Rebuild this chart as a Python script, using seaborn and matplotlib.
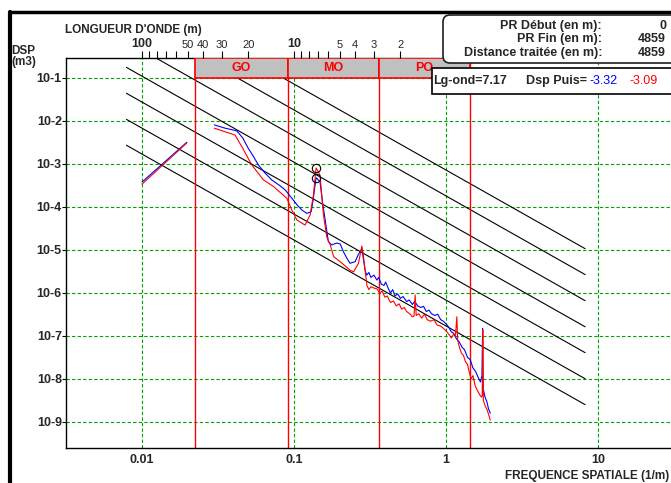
import matplotlib
matplotlib.use('Agg')
import matplotlib.pyplot as plt
from matplotlib.patches import Rectangle, FancyBboxPatch
from matplotlib.lines import Line2D
from matplotlib.ticker import NullLocator, FixedLocator
import pandas as pd
import seaborn as sns

# short first segment (very long waves)
seg_freq = [0.01, 0.0197]
seg_blue = [3.8e-4, 3.2e-3]
seg_red = [3.4e-4, 3.1e-3]

# main spectra, blue then red
blue_freq = [0.0299, 0.0352, 0.042, 0.046, 0.050, 0.054, 0.0582, 0.064, 0.0713, 0.080,
             0.0873, 0.0966, 0.105, 0.1125, 0.1213, 0.1295, 0.1328, 0.1395, 0.148, 0.1535,
             0.160, 0.168, 0.177, 0.190, 0.201, 0.211, 0.222, 0.233, 0.252, 0.265,
             0.279, 0.293, 0.30, 0.31, 0.32, 0.335, 0.35, 0.36, 0.375, 0.39,
             0.40, 0.415, 0.43, 0.445, 0.46, 0.48, 0.50, 0.52, 0.55, 0.57,
             0.60, 0.62, 0.65, 0.68, 0.71, 0.74, 0.77, 0.80, 0.84, 0.88,
             0.92, 0.96, 1.00, 1.04, 1.08, 1.12, 1.17, 1.22, 1.27, 1.32,
             1.38, 1.44, 1.50, 1.56, 1.62, 1.68, 1.72, 1.735, 1.75, 1.80,
             1.85, 1.90, 1.95]
blue_dsp = [8.1e-3, 6.8e-3, 5.9e-3, 4.0e-3, 2.3e-3, 1.5e-3, 9.5e-4, 6.3e-4, 4.25e-4, 3.2e-4,
            2.5e-4, 1.6e-4, 1.1e-4, 8.5e-5, 7.1e-5, 7.8e-5, 1.33e-4, 4.8e-4, 3.9e-4, 1.33e-4,
            5.0e-5, 1.56e-5, 1.31e-5, 1.45e-5, 1.38e-5, 9.1e-6, 6.5e-6, 4.9e-6, 5.35e-6, 8.0e-6,
            1.05e-5, 3.4e-6, 2.6e-6, 3.0e-6, 2.3e-6, 2.6e-6, 2.0e-6, 2.3e-6, 1.6e-6, 1.5e-6,
            1.8e-6, 1.3e-6, 1.0e-6, 1.2e-6, 8.5e-7, 9.5e-7, 7.5e-7, 8.3e-7, 6.3e-7, 6.9e-7,
            5.4e-7, 6.4e-7, 5.0e-7, 4.6e-7, 4.9e-7, 3.7e-7, 4.0e-7, 3.3e-7, 3.0e-7, 3.2e-7,
            2.4e-7, 2.2e-7, 1.9e-7, 1.6e-7, 1.25e-7, 1.15e-7, 8.5e-8, 7.2e-8, 5.5e-8, 4.8e-8,
            3.2e-8, 2.8e-8, 1.8e-8, 1.5e-8, 1.1e-8, 8.5e-9, 1.2e-8, 1.5e-7, 6.0e-9, 3.8e-9,
            3.0e-9, 2.0e-9, 1.6e-9]

red_freq = [0.0299, 0.0409, 0.046, 0.0527, 0.0629, 0.0731, 0.0895, 0.0966, 0.1042, 0.118,
            0.1274, 0.134, 0.1395, 0.148, 0.156, 0.164, 0.173, 0.182, 0.201, 0.233,
            0.246, 0.265, 0.279, 0.286, 0.301, 0.31, 0.32, 0.335, 0.35, 0.365,
            0.38, 0.395, 0.41, 0.43, 0.45, 0.47, 0.49, 0.51, 0.53, 0.55,
            0.58, 0.60, 0.615, 0.625, 0.635, 0.66, 0.69, 0.72, 0.75, 0.79,
            0.83, 0.87, 0.92, 0.96, 1.00, 1.04, 1.08, 1.12, 1.15, 1.175,
            1.19, 1.22, 1.26, 1.30, 1.34, 1.38, 1.42, 1.46, 1.50, 1.55,
            1.60, 1.65, 1.70, 1.725, 1.74, 1.755, 1.80, 1.85, 1.90, 1.95]
red_dsp = [6.8e-3, 4.7e-3, 2.3e-3, 9.5e-4, 4.25e-4, 3.0e-4, 1.6e-4, 8.5e-5, 5.0e-5, 3.8e-5,
           6.5e-5, 1.9e-4, 8.1e-4, 5.5e-4, 6.5e-5, 2.0e-5, 1.3e-5, 7.0e-6, 5.35e-6, 3.4e-6,
           3.1e-6, 4.9e-6, 1.24e-5, 7.0e-6, 1.5e-6, 1.2e-6, 1.4e-6, 1.3e-6, 1.25e-6, 1.0e-6,
           1.1e-6, 8.0e-7, 8.5e-7, 6.0e-7, 6.5e-7, 5.0e-7, 5.6e-7, 4.2e-7, 4.6e-7, 3.7e-7,
           3.2e-7, 2.8e-7, 2.9e-7, 9.0e-7, 3.0e-7, 3.3e-7, 2.6e-7, 3.2e-7, 2.4e-7, 2.2e-7,
           2.4e-7, 1.8e-7, 1.7e-7, 1.5e-7, 1.3e-7, 1.1e-7, 9.0e-8, 1.1e-7, 1.0e-7, 2.8e-7,
           8.0e-8, 5.5e-8, 4.0e-8, 3.5e-8, 2.5e-8, 2.2e-8, 1.4e-8, 1.0e-8, 1.2e-8, 7.0e-9,
           5.5e-9, 4.5e-9, 3.8e-9, 4.0e-9, 1.38e-7, 3.2e-9, 2.4e-9, 2.0e-9, 1.5e-9, 1.1e-9]

# peak found at wavelength 7.17 m
lg_ond = 7.17
puis_blue = -3.32
puis_red = -3.09

# wave bands (1/m) and names
band_edges = [0.0222, 0.0909, 0.364, 1.43]
band_names = ['GO', 'MO', 'PO']

# reference lines in f^-2, level = DSP at f=1
ref_levels = [1.7e-7, 6.8e-7, 2.75e-6, 1.1e-5, 4.45e-5, 1.8e-4, 7.2e-4]
ref_fmin, ref_fmax = 0.0079, 8.2

wl_ticks = [100, 90, 80, 70, 60, 50, 40, 30, 20, 10, 9, 8, 7, 6, 5, 4, 3, 2]
wl_labels = ['100', '', '', '', '', '50', '40', '30', '20', '10', '', '', '', '', '5', '4', '3', '2']

info_labels = ['PR Début (en m):', 'PR Fin (en m):', 'Distance traitée (en m):']
info_values = ['0', '4859', '4859']

sns.set_style('white')
plt.rcParams['font.family'] = ['Liberation Sans', 'DejaVu Sans']
plt.rcParams['font.weight'] = 'bold'

W, H = 671, 483
fig = plt.figure(figsize=(W / 100, H / 100), dpi=100)
ax = fig.add_axes([66 / W, 35 / H, 609 / W, 390 / H])
ax.set_xscale('log')
ax.set_yscale('log')
xlim = (10 ** -2.5, 10 ** 1.5046)
ylim = (10 ** -9.605, 10 ** -0.535)

# grid
ax.set_xticks([0.01, 0.1, 1, 10], ['0.01', '0.1', '1', '10'])
ax.set_yticks([10.0 ** -k for k in range(1, 10)], ['10-%d' % k for k in range(1, 10)])
ax.xaxis.set_minor_locator(NullLocator())
ax.yaxis.set_minor_locator(NullLocator())
ax.grid(True, color='#00a000', ls=(0, (3, 2)), lw=0.8, zorder=0)
ax.tick_params(axis='x', length=0, pad=4, labelsize=9)
ax.tick_params(axis='y', length=3, pad=0, labelsize=9, left=True, color='black')

# reference lines
for lev in ref_levels:
    ax.plot([ref_fmin, ref_fmax], [lev * ref_fmin ** -2, lev * ref_fmax ** -2],
            color='black', lw=0.8, zorder=1.5)

for b in band_edges:
    ax.axvline(b, color='red', lw=1, zorder=1.6)

# spectra
rows = []
for f, b, r in zip(seg_freq, seg_blue, seg_red):
    rows.append(('blue', 'seg', f, b))
    rows.append(('red', 'seg', f, r))
for f, v in zip(blue_freq, blue_dsp):
    rows.append(('blue', 'main', f, v))
for f, v in zip(red_freq, red_dsp):
    rows.append(('red', 'main', f, v))
df = pd.DataFrame(rows, columns=['serie', 'part', 'freq', 'dsp'])
df['unit'] = df['serie'] + df['part']
sns.lineplot(data=df, x='freq', y='dsp', hue='serie', units='unit', estimator=None,
             sort=False, hue_order=['blue', 'red'],
             palette={'blue': '#0000ff', 'red': '#ff0000'}, lw=0.8, legend=False, ax=ax)

ax.plot([1 / lg_ond, 1 / lg_ond], [10 ** puis_blue, 10 ** puis_red], ls='none',
        marker='o', ms=6, mfc='none', mec='black', mew=0.8, zorder=4)

# band boxes at top
for i, name in enumerate(band_names):
    x0, x1 = band_edges[i], band_edges[i + 1]
    ax.add_patch(Rectangle((x0, 0.1), x1 - x0, ylim[1] - 0.1, facecolor='#c0c0c0',
                           edgecolor='red', lw=1.2, zorder=3))
    ax.text((x0 * x1) ** 0.5, (0.1 * ylim[1]) ** 0.5, name, color='red', fontsize=9,
            ha='center', va='center', zorder=4)

ax.set_xlim(xlim)
ax.set_ylim(ylim)
ax.set_xlabel('')
ax.set_ylabel('')
for s in ['left', 'bottom', 'top']:
    ax.spines[s].set_visible(True)
    ax.spines[s].set_color('black')
    ax.spines[s].set_linewidth(1)
ax.spines['right'].set_visible(False)

# wavelength axis on top
ax2 = ax.twiny()
ax2.set_xscale('log')
ax2.set_xlim(xlim)
ax2.xaxis.set_major_locator(FixedLocator([1 / w for w in wl_ticks]))
ax2.set_xticklabels(wl_labels)
ax2.xaxis.set_minor_locator(NullLocator())
ax2.tick_params(axis='x', top=True, length=5, pad=1, labelsize=8, direction='out', color='black')
for lab in ax2.get_xticklabels():
    lab.set_fontweight('bold' if lab.get_text() in ('100', '10') else 'normal')
    if lab.get_text() in ('100', '10'):
        lab.set_fontsize(9)
for s in ax2.spines.values():
    s.set_visible(False)

fig.text(65 / W, 1 - 30 / H, "LONGUEUR D'ONDE (m)", fontsize=8.5, ha='left', va='center')
fig.text(11 / W, 1 - 45 / H, 'DSP\n(m3)', fontsize=8.5, ha='left', va='top', linespacing=0.9)
fig.text(505 / W, 1 - 476 / H, 'FREQUENCE SPATIALE (1/m)', fontsize=8.5, ha='left', va='center')

# outer frame
fig.add_artist(Line2D([10 / W, 10 / W], [0, 1 - 12 / H], color='black', lw=3))
fig.add_artist(Line2D([10 / W, 1], [1 - 12 / H, 1 - 12 / H], color='black', lw=2.5))

# info box
fig.add_artist(FancyBboxPatch((4.43, (H - 63) / 100), 2.5, 0.48,
                              boxstyle='round,pad=0,rounding_size=0.07',
                              transform=fig.dpi_scale_trans, facecolor='white',
                              edgecolor='#202020', lw=1.2, zorder=5))
for i, (lab, val) in enumerate(zip(info_labels, info_values)):
    y = 1 - (26 + i * 13.3) / H
    fig.text(602 / W, y, lab, fontsize=9, ha='right', va='center', zorder=6)
    fig.text(666 / W, y, val, fontsize=9, ha='right', va='center', zorder=6)

# peak box
fig.add_artist(Rectangle((432 / W, 1 - 94 / H), 250 / W, 26 / H, facecolor='white',
                         edgecolor='black', lw=1.2, zorder=5, transform=fig.transFigure))
ym = 1 - 81 / H
fig.text(433.5 / W, ym, 'Lg-ond=%.2f' % lg_ond, fontsize=9, va='center', zorder=6)
fig.text(526.5 / W, ym, 'Dsp Puis=', fontsize=9, va='center', zorder=6)
fig.text(589 / W, ym, '%.2f' % puis_blue, fontsize=9, va='center', color='#0000ff',
         fontweight='normal', zorder=6)
fig.text(630 / W, ym, '%.2f' % puis_red, fontsize=9, va='center', color='#ff0000',
         fontweight='normal', zorder=6)

fig.savefig('out.png', dpi=100)
